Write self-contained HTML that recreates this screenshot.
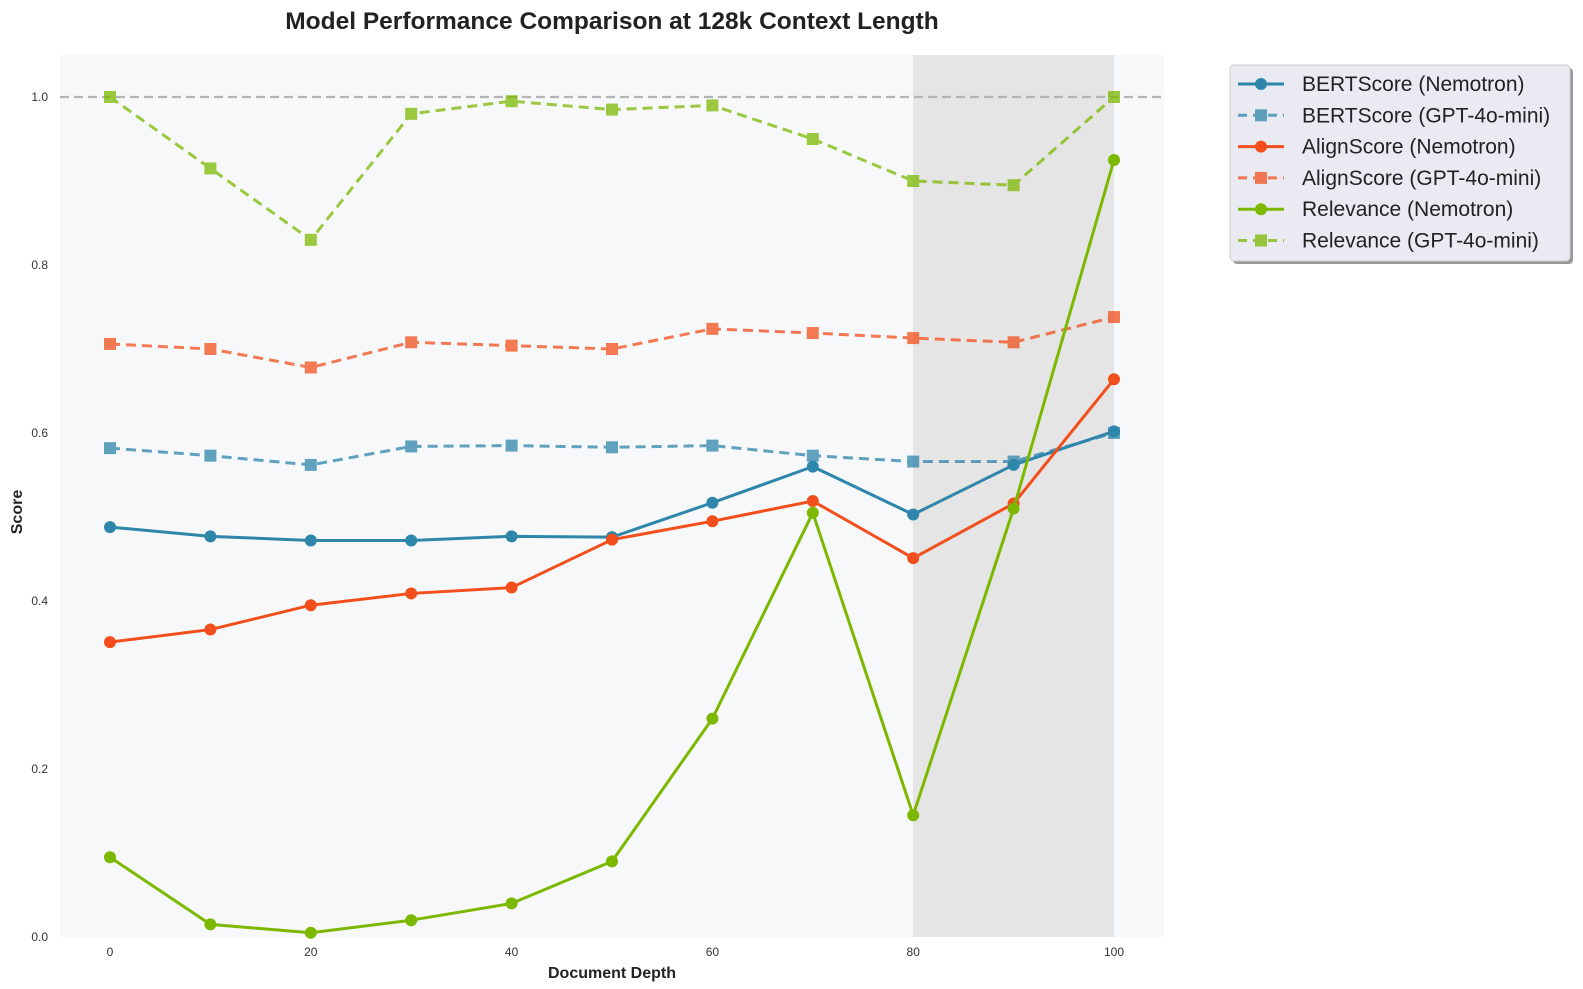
<!DOCTYPE html>
<html><head><meta charset="utf-8"><style>body{margin:0;background:#fff}svg{display:block;font-family:"Liberation Sans",sans-serif}</style></head><body>
<svg id="s" width="1583" height="989" xmlns="http://www.w3.org/2000/svg">
<rect x="60" y="55" width="1104" height="882" fill="#f7f8fa"/>
<rect x="913" y="55" width="201" height="882" fill="#e5e5e5"/>
<line x1="60" y1="97" x2="1164" y2="97" stroke="#b3b3b3" stroke-width="2.2" stroke-dasharray="9,5"/>
<g id="ticks" font-size="12" fill="#333"></g>
<g id="series"></g>
<text x="612" y="29" font-size="24.5" font-weight="bold" text-anchor="middle" fill="#222">Model Performance Comparison at 128k Context Length</text>
<text x="612" y="978" font-size="16" font-weight="bold" text-anchor="middle" fill="#222">Document Depth</text>
<text x="22" y="512" font-size="16" font-weight="bold" text-anchor="middle" fill="#222" transform="rotate(-90 22 512)">Score</text>
<rect x="1233" y="68" width="340" height="196" rx="4" fill="#999"/>
<rect x="1230" y="65" width="340" height="196" rx="4" fill="#eaeaf2" stroke="#ccc"/>
<g id="leg" font-size="21" fill="#222"></g>
</svg>
<script>
const X=v=>110+10.04*v, Y=s=>937-840*s;
const ns="http://www.w3.org/2000/svg";
function el(p,t,a,txt){const e=document.createElementNS(ns,t);for(const k in a)e.setAttribute(k,a[k]);if(txt!==undefined)e.textContent=txt;p.appendChild(e);return e;}
const tk=document.getElementById('ticks');
for(let v=0;v<=100;v+=20)el(tk,'text',{x:X(v),y:956,'text-anchor':'middle'},v);
for(let s=0;s<=5;s++){const val=s*0.2;el(tk,'text',{x:48,y:Y(val)+4,'text-anchor':'end'},val.toFixed(1));}
const xs=[0,10,20,30,40,50,60,70,80,90,100];
const S=[
["BERTScore (Nemotron)","#2e86ab",0,1,[0.488,0.477,0.472,0.472,0.477,0.476,0.517,0.560,0.503,0.562,0.602]],
["BERTScore (GPT-4o-mini)","#2e86ab",1,0.75,[0.582,0.573,0.562,0.584,0.585,0.583,0.585,0.573,0.566,0.566,0.600]],
["AlignScore (Nemotron)","#f24f1c",0,1,[0.351,0.366,0.395,0.409,0.416,0.473,0.495,0.519,0.451,0.516,0.664]],
["AlignScore (GPT-4o-mini)","#f24f1c",1,0.75,[0.706,0.700,0.678,0.708,0.704,0.700,0.724,0.719,0.713,0.708,0.738]],
["Relevance (Nemotron)","#7cb800",0,1,[0.095,0.015,0.005,0.020,0.040,0.090,0.260,0.505,0.145,0.510,0.925]],
["Relevance (GPT-4o-mini)","#7cb800",1,0.75,[1.0,0.915,0.830,0.980,0.995,0.985,0.990,0.950,0.900,0.895,1.0]]];
const sg=document.getElementById('series'),lg=document.getElementById('leg');
S.forEach((s,i)=>{const [name,c,d,op,vals]=s;
 const g=el(sg,'g',{opacity:op});
 el(g,'polyline',{points:vals.map((v,j)=>X(xs[j])+','+Y(v)).join(' '),fill:'none',stroke:c,'stroke-width':3,'stroke-dasharray':d?'10,6':'none','stroke-linejoin':'round'});
 vals.forEach((v,j)=>{if(d)el(g,'rect',{x:X(xs[j])-6,y:Y(v)-6,width:12,height:12,fill:c});else el(g,'circle',{cx:X(xs[j]),cy:Y(v),r:6,fill:c});});
 const ly=84+i*31.3;const lgg=el(lg,'g',{opacity:op});
 el(lgg,'line',{x1:1238,y1:ly,x2:1284,y2:ly,stroke:c,'stroke-width':3,'stroke-dasharray':d?'9,6':'none'});
 if(d)el(lgg,'rect',{x:1255,y:ly-6,width:12,height:12,fill:c});else el(lgg,'circle',{cx:1261,cy:ly,r:6,fill:c});
 el(lg,'text',{x:1302,y:ly+7},name);
});
</script>
</body></html>
